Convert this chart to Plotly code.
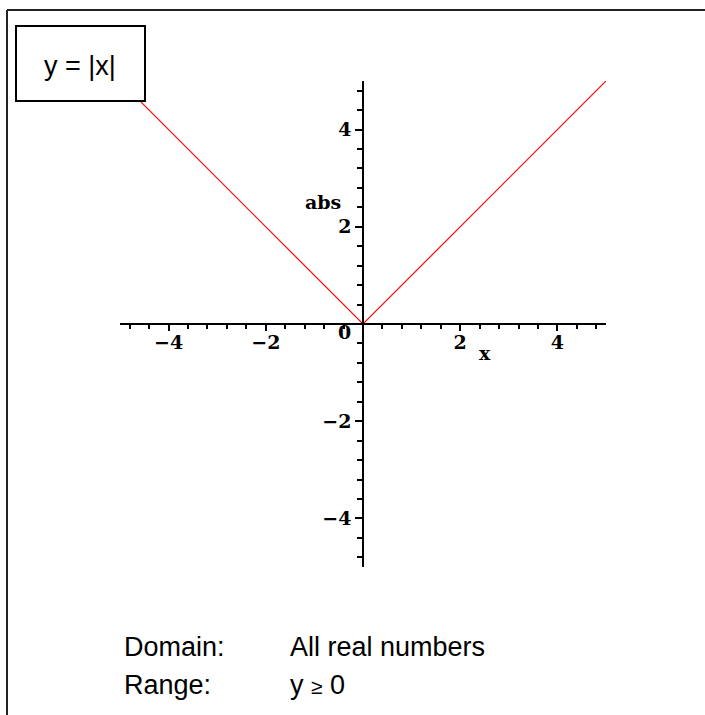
import plotly.graph_objects as go

# ---- data ----
x_vals = [-5, 0, 5]
y_vals = [5, 0, 5]          # y = |x|
x_tick_vals = [-4, -2, 0, 2, 4]
x_tick_text = ["\u22124", "\u22122", "", "2", "4"]
y_tick_vals = [-4, -2, 0, 2, 4]
y_tick_text = ["\u22124", "\u22122", "", "2", "4"]
x_label = "x"
y_label = "abs"
origin_label = "0"
title_text = "y = |x|"
domain_label, domain_text = "Domain:", "All real numbers"
range_label, range_text = "Range:", "y <span style='font-size:21px'>\u2265</span> 0"

W, H = 705, 715
L, R, T, B = 120, 99, 81, 148
PW, PH = W - L - R, H - T - B


def px(xp):
    return (xp - L) / PW


def py(yp):
    return (H - B - yp) / PH


tick_font = dict(family="DejaVu Serif", size=19, color="black", weight="bold")
sans = dict(family="Liberation Sans, Arial", size=27, color="black")

fig = go.Figure()
fig.add_trace(go.Scatter(x=x_vals, y=y_vals, mode="lines",
                         line=dict(color="rgb(255,0,0)", width=1.2),
                         hoverinfo="skip"))

axis_common = dict(
    range=[-5, 5], showgrid=False, zeroline=False, showline=True,
    linecolor="black", linewidth=1.5, ticks="outside", tickwidth=1.5,
    tickcolor="black", tickfont=tick_font, anchor="free", position=0.5,
    tickmode="array",
)
fig.update_xaxes(**axis_common, tickvals=x_tick_vals, ticktext=x_tick_text,
                 ticklen=6, ticklabelstandoff=-5,
                 minor=dict(ticks="outside", dtick=0.4, tick0=0, ticklen=4,
                            tickwidth=1.5, tickcolor="black", showgrid=False))
fig.update_yaxes(**axis_common, tickvals=y_tick_vals, ticktext=y_tick_text,
                 ticklen=7,
                 minor=dict(ticks="outside", dtick=0.4, tick0=0, ticklen=5,
                            tickwidth=1.5, tickcolor="black", showgrid=False))

ann = []
ann.append(dict(x=-0.376, y=-0.165, xref="x", yref="y", text=origin_label,
                showarrow=False, font=tick_font))
ann.append(dict(x=2.5, y=-0.6, xref="x", yref="y", text=x_label,
                showarrow=False, font=tick_font))
ann.append(dict(x=-0.82, y=2.51, xref="x", yref="y", text=y_label,
                showarrow=False, font=tick_font))
ann.append(dict(x=px(80), y=py(66), xref="paper", yref="paper", text=title_text,
                showarrow=False, font=sans, xanchor="center", yanchor="middle"))
for lab, txt, yc in [(domain_label, domain_text, 647), (range_label, range_text, 685)]:
    ann.append(dict(x=px(122), y=py(yc), xref="paper", yref="paper", text=lab,
                    showarrow=False, font=sans, xanchor="left", yanchor="middle"))
    ann.append(dict(x=px(288), y=py(yc), xref="paper", yref="paper", text=txt,
                    showarrow=False, font=sans, xanchor="left", yanchor="middle"))

shapes = [
    # outer frame (top and left edges)
    dict(type="line", xref="paper", yref="paper", x0=px(7), x1=px(W),
         y0=py(10), y1=py(10), line=dict(color="#222", width=2)),
    dict(type="line", xref="paper", yref="paper", x0=px(7), x1=px(7),
         y0=py(10), y1=py(H), line=dict(color="#222", width=2)),
    # title box
    dict(type="rect", xref="paper", yref="paper", x0=px(16), x1=px(145),
         y0=py(101), y1=py(26), fillcolor="white",
         line=dict(color="black", width=2), layer="above"),
]

fig.update_layout(width=W, height=H, margin=dict(l=L, r=R, t=T, b=B),
                  plot_bgcolor="white", paper_bgcolor="white",
                  showlegend=False, annotations=ann, shapes=shapes)

fig.write_html("out.html", config={"displayModeBar": False},
               post_script="document.body.style.margin='0';"
                           "document.body.style.overflow='hidden';")
